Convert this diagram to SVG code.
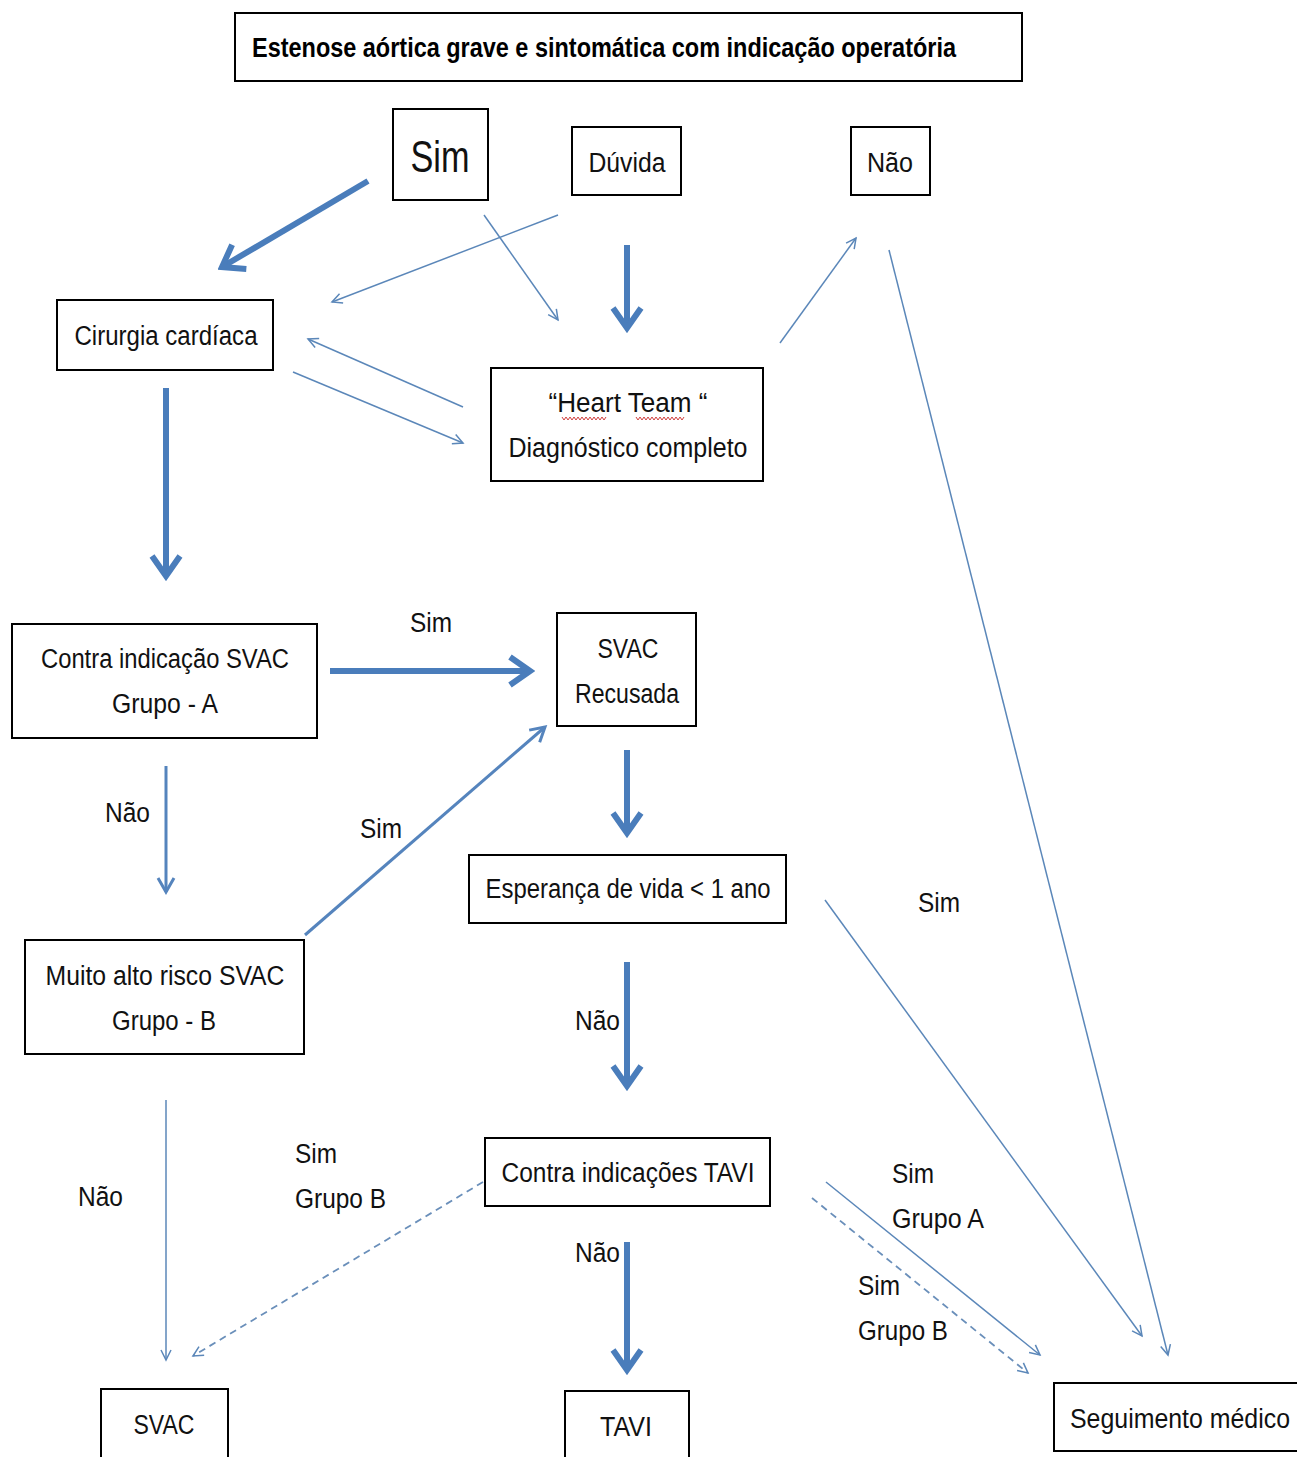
<svg xmlns="http://www.w3.org/2000/svg" width="1297" height="1457" viewBox="0 0 1297 1457">
<style>
.box{fill:#fff;stroke:#000;stroke-width:2}
.t{font-family:"Liberation Sans",Arial,sans-serif;font-size:27px;fill:#111;text-anchor:middle}
.l{font-family:"Liberation Sans",Arial,sans-serif;font-size:27px;fill:#111}
.thick{stroke:#4a7dbb;stroke-width:6;fill:none}
.med{stroke:#5584bd;stroke-width:3;fill:none}
.thin{stroke:#5b87b9;stroke-width:1.5;fill:none}
.dash{stroke:#6a8fba;stroke-width:1.8;fill:none;stroke-dasharray:7 5}
</style>
<defs>
<marker id="big" markerUnits="userSpaceOnUse" viewBox="0 0 30 34" markerWidth="30" markerHeight="34" refX="25" refY="17" orient="auto">
<path d="M5,3 L25,17 L5,31" fill="none" stroke="#4a7dbb" stroke-width="6"/>
</marker>
<marker id="mid" markerUnits="userSpaceOnUse" viewBox="0 0 20 20" markerWidth="20" markerHeight="20" refX="17" refY="10" orient="auto">
<path d="M3,2 L17,10 L3,18" fill="none" stroke="#5584bd" stroke-width="3"/>
</marker>
<marker id="sm" markerUnits="userSpaceOnUse" viewBox="0 0 14 14" markerWidth="14" markerHeight="14" refX="12" refY="7" orient="auto">
<path d="M2,2 L12,7 L2,12" fill="none" stroke="#5b87b9" stroke-width="1.5"/>
</marker>
</defs>
<rect width="1297" height="1457" fill="#fff"/>

<g id="connectors">
<line class="thick" x1="368" y1="181" x2="222" y2="267" marker-end="url(#big)"/>
<line class="thick" x1="627" y1="245" x2="627" y2="328" marker-end="url(#big)"/>
<line class="thick" x1="166" y1="388" x2="166" y2="576" marker-end="url(#big)"/>
<line class="thick" x1="330" y1="671" x2="530" y2="671" marker-end="url(#big)"/>
<line class="thick" x1="627" y1="750" x2="627" y2="833" marker-end="url(#big)"/>
<line class="thick" x1="627" y1="962" x2="627" y2="1086" marker-end="url(#big)"/>
<line class="thick" x1="627" y1="1242" x2="627" y2="1370" marker-end="url(#big)"/>

<line class="thin" x1="558" y1="215" x2="332" y2="302" marker-end="url(#sm)"/>
<line class="thin" x1="484" y1="215" x2="558" y2="320" marker-end="url(#sm)"/>
<line class="thin" x1="463" y1="407" x2="308" y2="339" marker-end="url(#sm)"/>
<line class="thin" x1="293" y1="372" x2="463" y2="443" marker-end="url(#sm)"/>
<line class="thin" x1="780" y1="343" x2="856" y2="238" marker-end="url(#sm)"/>
<line class="thin" x1="889" y1="250" x2="1168" y2="1355" marker-end="url(#sm)"/>
<line class="med" x1="166" y1="766" x2="166" y2="892" marker-end="url(#mid)"/>
<line class="med" x1="305" y1="935" x2="545" y2="727" marker-end="url(#mid)"/>
<line class="thin" x1="166" y1="1100" x2="166" y2="1360" marker-end="url(#sm)"/>
<line class="dash" x1="483" y1="1182" x2="193" y2="1356" marker-end="url(#sm)"/>
<line class="thin" x1="825" y1="900" x2="1142" y2="1336" marker-end="url(#sm)"/>
<line class="thin" x1="826" y1="1182" x2="1040" y2="1355" marker-end="url(#sm)"/>
<line class="dash" x1="812" y1="1198" x2="1028" y2="1373" marker-end="url(#sm)"/>
</g>

<g id="labels">
<text class="l" x="410" y="632" textLength="42" lengthAdjust="spacingAndGlyphs">Sim</text>
<text class="l" x="105" y="822" textLength="45" lengthAdjust="spacingAndGlyphs">Não</text>
<text class="l" x="360" y="838" textLength="42" lengthAdjust="spacingAndGlyphs">Sim</text>
<text class="l" x="575" y="1030" textLength="45" lengthAdjust="spacingAndGlyphs">Não</text>
<text class="l" x="918" y="912" textLength="42" lengthAdjust="spacingAndGlyphs">Sim</text>
<text class="l" x="78" y="1206" textLength="45" lengthAdjust="spacingAndGlyphs">Não</text>
<text class="l" x="295" y="1163" textLength="42" lengthAdjust="spacingAndGlyphs">Sim</text>
<text class="l" x="295" y="1208" textLength="91" lengthAdjust="spacingAndGlyphs">Grupo B</text>
<text class="l" x="575" y="1262" textLength="45" lengthAdjust="spacingAndGlyphs">Não</text>
<text class="l" x="892" y="1183" textLength="42" lengthAdjust="spacingAndGlyphs">Sim</text>
<text class="l" x="892" y="1228" textLength="92" lengthAdjust="spacingAndGlyphs">Grupo A</text>
<text class="l" x="858" y="1295" textLength="42" lengthAdjust="spacingAndGlyphs">Sim</text>
<text class="l" x="858" y="1340" textLength="90" lengthAdjust="spacingAndGlyphs">Grupo B</text>
</g>

<g id="n-title"><rect class="box" x="235" y="13" width="787" height="68"/>
<text x="252" y="57" textLength="704" lengthAdjust="spacingAndGlyphs" style="font-family:'Liberation Sans',Arial,sans-serif;font-size:27px;font-weight:bold;fill:#000">Estenose aórtica grave e sintomática  com indicação operatória</text></g>
<g id="n-sim"><rect class="box" x="393" y="109" width="95" height="91"/><text class="t" x="440" y="172" textLength="59" lengthAdjust="spacingAndGlyphs" style="font-size:44px">Sim</text></g>
<g id="n-duvida"><rect class="box" x="572" y="127" width="109" height="68"/><text class="t" x="627" y="172" textLength="77" lengthAdjust="spacingAndGlyphs">Dúvida</text></g>
<g id="n-nao"><rect class="box" x="851" y="127" width="79" height="68"/><text class="t" x="890" y="172" textLength="46" lengthAdjust="spacingAndGlyphs">Não</text></g>
<g id="n-cirurgia"><rect class="box" x="57" y="300" width="216" height="70"/><text class="t" x="166" y="345" textLength="183" lengthAdjust="spacingAndGlyphs">Cirurgia cardíaca</text></g>
<g id="n-heart"><rect class="box" x="491" y="368" width="272" height="113"/>
<text class="t" x="628" y="412" textLength="159" lengthAdjust="spacingAndGlyphs">“Heart Team “</text>
<text class="t" x="628" y="457" textLength="239" lengthAdjust="spacingAndGlyphs">Diagnóstico completo</text>
<path d="M562,417 l2,3 l2,-3 l2,3 l2,-3 l2,3 l2,-3 l2,3 l2,-3 l2,3 l2,-3 l2,3 l2,-3 l2,3 l2,-3 l2,3 l2,-3 l2,3 l2,-3 l2,3 l2,-3 l2,3 l2,-3 M636,417 l2,3 l2,-3 l2,3 l2,-3 l2,3 l2,-3 l2,3 l2,-3 l2,3 l2,-3 l2,3 l2,-3 l2,3 l2,-3 l2,3 l2,-3 l2,3 l2,-3 l2,3 l2,-3 l2,3 l2,-3 l2,3 l2,-3" fill="none" stroke="#d04040" stroke-width="1"/></g>
<g id="n-contraA"><rect class="box" x="12" y="624" width="305" height="114"/>
<text class="t" x="165" y="668" textLength="248" lengthAdjust="spacingAndGlyphs">Contra indicação SVAC</text>
<text class="t" x="165" y="713" textLength="106" lengthAdjust="spacingAndGlyphs">Grupo - A</text></g>
<g id="n-recusada"><rect class="box" x="557" y="613" width="139" height="113"/>
<text class="t" x="628" y="658" textLength="61" lengthAdjust="spacingAndGlyphs">SVAC</text>
<text class="t" x="627" y="703" textLength="104" lengthAdjust="spacingAndGlyphs">Recusada</text></g>
<g id="n-esperanca"><rect class="box" x="469" y="855" width="317" height="68"/>
<text class="t" x="628" y="898" textLength="285" lengthAdjust="spacingAndGlyphs">Esperança de vida &lt; 1 ano</text></g>
<g id="n-muito"><rect class="box" x="25" y="940" width="279" height="114"/>
<text class="t" x="165" y="985" textLength="239" lengthAdjust="spacingAndGlyphs">Muito alto risco SVAC</text>
<text class="t" x="164" y="1030" textLength="104" lengthAdjust="spacingAndGlyphs">Grupo - B</text></g>
<g id="n-contraTAVI"><rect class="box" x="485" y="1138" width="285" height="68"/>
<text class="t" x="628" y="1182" textLength="253" lengthAdjust="spacingAndGlyphs">Contra indicações TAVI</text></g>
<g id="n-svac"><rect class="box" x="101" y="1389" width="127" height="75"/><text class="t" x="164" y="1434" textLength="61" lengthAdjust="spacingAndGlyphs">SVAC</text></g>
<g id="n-tavi"><rect class="box" x="565" y="1391" width="124" height="75"/><text class="t" x="626" y="1436" textLength="52" lengthAdjust="spacingAndGlyphs">TAVI</text></g>
<g id="n-seguimento"><rect class="box" x="1054" y="1383" width="260" height="68"/><text class="l" x="1070" y="1428" textLength="220" lengthAdjust="spacingAndGlyphs">Seguimento médico</text></g>
</svg>
